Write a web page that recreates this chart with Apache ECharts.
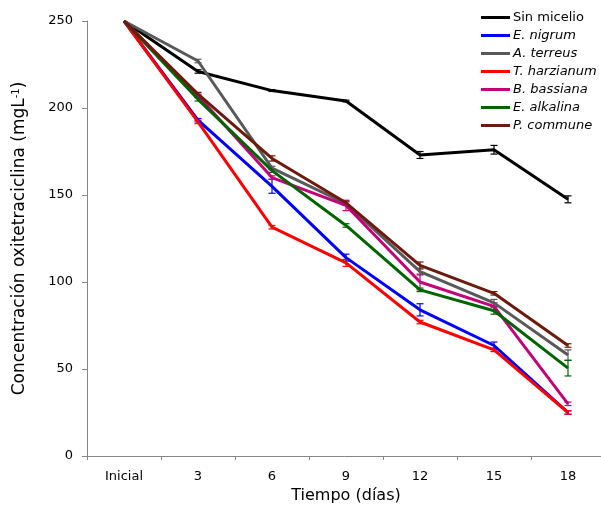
<!DOCTYPE html>
<html>
<head>
<meta charset="utf-8">
<script src="https://cdn.jsdelivr.net/npm/echarts@6/dist/echarts.min.js"></script>
<style>html,body{margin:0;padding:0;background:#fff}#c{width:601px;height:507px}</style>
</head>
<body>
<div id="c"></div>
<script>
var categories = ['Inicial', '3', '6', '9', '12', '15', '18'];
var seriesNames = ['Sin micelio', 'E. nigrum', 'A. terreus', 'T. harzianum', 'B. bassiana', 'E. alkalina', 'P. commune'];
var italicNames = [false, true, true, true, true, true, true];
var colors = ['#000000', '#0000ff', '#595959', '#ff0000', '#c4007a', '#006400', '#6b1a0c'];

var sinMicelio  = [250, 221, 210, 204, 173, 176, 147.5];
var eNigrum     = [250, 193, 155, 114, 84, 63.5, 25];
var aTerreus    = [250, 227, 165.5, 145, 106, 88, 58];
var tHarzianum  = [250, 192, 131.5, 111, 77, 61, 25];
var bBassiana   = [250, 207, 160, 144, 100, 86, 30];
var eAlkalina   = [250, 205, 164, 132.5, 95.5, 83.5, 50.5];
var pCommune    = [250, 208, 171, 145.5, 109.5, 93.5, 63.5];

var errSinMicelio = [0, 1, 0.5, 0.5, 2, 2.5, 2];
var errENigrum    = [0, 1, 4, 2, 3.5, 2, 1];
var errATerreus   = [0, 1, 1, 1, 2, 2, 3];
var errTHarzianum = [0, 1, 1, 2, 1, 1, 1];
var errBBassiana  = [0, 1, 1, 3, 4.5, 2, 1];
var errEAlkalina  = [0, 1, 1, 1, 1, 2, 4.5];
var errPCommune   = [0, 1, 1.5, 1, 2, 1, 1];

var yTicks = [0, 50, 100, 150, 200, 250];

var values = [sinMicelio, eNigrum, aTerreus, tHarzianum, bBassiana, eAlkalina, pCommune];
var errors = [errSinMicelio, errENigrum, errATerreus, errTHarzianum, errBBassiana, errEAlkalina, errPCommune];

var chart = echarts.init(document.getElementById('c'), null, {renderer: 'canvas'});
var font = 'DejaVu Sans, Verdana, sans-serif';

var series = [];
values.forEach(function (vals, i) {
  var errData = vals.map(function (v, k) { return [k, v - errors[i][k], v + errors[i][k]]; })
    .filter(function (d) { return d[2] - d[1] > 0; });
  series.push({
    type: 'custom',
    name: seriesNames[i] + ' err',
    data: errData,
    z: 3,
    silent: true,
    renderItem: function (params, api) {
      var x = api.value(0);
      var lo = api.coord([x, api.value(1)]);
      var hi = api.coord([x, api.value(2)]);
      var w = 3.5;
      var st = {stroke: colors[i], lineWidth: 1.2};
      return {
        type: 'group',
        children: [
          {type: 'line', shape: {x1: lo[0], y1: lo[1], x2: hi[0], y2: hi[1]}, style: st},
          {type: 'line', shape: {x1: lo[0] - w, y1: lo[1], x2: lo[0] + w, y2: lo[1]}, style: st},
          {type: 'line', shape: {x1: hi[0] - w, y1: hi[1], x2: hi[0] + w, y2: hi[1]}, style: st}
        ]
      };
    }
  });
  series.push({
    type: 'line',
    name: seriesNames[i],
    data: vals,
    showSymbol: false,
    symbol: 'none',
    z: 4,
    lineStyle: {color: colors[i], width: 3},
    itemStyle: {color: colors[i]}
  });
});

chart.setOption({
  animation: false,
  backgroundColor: '#ffffff',
  color: colors,
  grid: {left: 87, width: 518, top: 21, bottom: 51, containLabel: false, outerBoundsMode: 'none'},
  legend: {
    data: seriesNames.map(function (n) { return {name: n}; }),
    orient: 'vertical',
    left: 476,
    top: 6,
    itemWidth: 29,
    itemHeight: 3,
    itemGap: 5,
    icon: 'rect',
    textStyle: {
      fontFamily: font, fontSize: 13, color: '#000', padding: [0, 0, 0, -2],
      rich: {
        n: {fontFamily: font, fontSize: 13, color: '#000'},
        i: {fontFamily: font, fontSize: 13, color: '#000', fontStyle: 'italic'}
      }
    },
    formatter: function (name) {
      var idx = seriesNames.indexOf(name);
      return italicNames[idx] ? '{i|' + name + '}' : '{n|' + name + '}';
    }
  },
  xAxis: {
    type: 'category',
    data: categories,
    boundaryGap: true,
    name: 'Tiempo (días)',
    nameLocation: 'middle',
    nameGap: 31,
    nameTextStyle: {fontFamily: font, fontSize: 16, color: '#000'},
    axisLine: {lineStyle: {color: '#868686', width: 1}},
    axisTick: {show: true, alignWithLabel: false, length: 4, lineStyle: {color: '#868686'}},
    axisLabel: {fontFamily: font, fontSize: 13, color: '#000', margin: 14},
    splitLine: {show: false}
  },
  yAxis: {
    type: 'value',
    min: yTicks[0],
    max: yTicks[yTicks.length - 1],
    interval: 50,
    name: '{a|Concentración oxitetraciclina (mgL}{s|-1}{a|)}',
    nameLocation: 'middle',
    nameRotate: 90,
    nameGap: 58,
    nameTextStyle: {
      fontFamily: font, fontSize: 17, color: '#000',
      rich: {
        a: {fontFamily: font, fontSize: 17, color: '#000'},
        s: {fontFamily: font, fontSize: 10, color: '#000', verticalAlign: 'top', padding: [0, 0, 8, 0]}
      }
    },
    axisLine: {show: true, lineStyle: {color: '#868686', width: 1}},
    axisTick: {show: true, length: 5, lineStyle: {color: '#868686'}},
    axisLabel: {fontFamily: font, fontSize: 13, color: '#000', margin: 14},
    splitLine: {show: false}
  },
  series: series
});
</script>
</body>
</html>
